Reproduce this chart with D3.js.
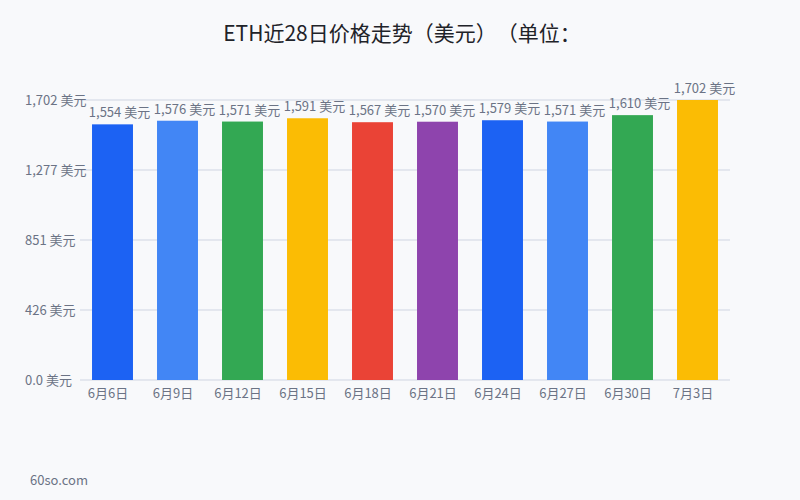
<!DOCTYPE html>
<html>
<head>
<meta charset="utf-8">
<script src="https://cdn.jsdelivr.net/npm/d3@7"></script>
<style>
  body { margin: 0; background: #f8f9fb; }
  svg { display: block; font-family: "Noto Sans CJK SC", "Noto Sans", sans-serif; text-spacing-trim: space-all; }
</style>
</head>
<body>
<svg width="800" height="500"></svg>
<script>
const dates = ["6月6日", "6月9日", "6月12日", "6月15日", "6月18日", "6月21日", "6月24日", "6月27日", "6月30日", "7月3日"];
const prices = [1554, 1576, 1571, 1591, 1567, 1570, 1579, 1571, 1610, 1702];
const yTicks = [0, 425.5, 851, 1276.5, 1702];
const yTickLabels = ["0.0 美元", "426 美元", "851 美元", "1,277 美元", "1,702 美元"];
const barColors = ["#1c62f3", "#4286f5", "#33a853", "#fbbc04", "#ea4336", "#8e44ad"];

const svg = d3.select("svg");
const grey = "#6b7385";

svg.append("rect").attr("width", 800).attr("height", 500).attr("fill", "#f8f9fb");

// title
svg.append("text")
  .attr("x", 402).attr("y", 41)
  .attr("text-anchor", "middle")
  .style("font-size", "21px")
  .style("fill", "#1f2329")
  .text("ETH近28日价格走势（美元）（单位：");

let x = d3.scaleBand().domain(dates).range([80, 730]).paddingInner(0.37).paddingOuter(0.185);
let y = d3.scaleLinear().domain([0, 1702]).range([380, 100]);
const mid = d => x(d) + x.bandwidth() / 2;

// grid lines + y labels
svg.append("g").selectAll("line").data(yTicks).enter().append("line")
  .attr("x1", 80).attr("x2", 730)
  .attr("y1", d => y(d)).attr("y2", d => y(d))
  .style("stroke", "#cfd5e2").style("stroke-width", 1);

svg.append("g").selectAll("text").data(yTicks).enter().append("text")
  .attr("x", 25)
  .attr("y", d => y(d) + 4.5)
  .style("font-size", "13px").style("fill", grey)
  .text((d, i) => yTickLabels[i]);

// bars
svg.append("g").selectAll("rect").data(prices).enter().append("rect")
  .attr("x", (d, i) => x(dates[i]))
  .attr("y", d => y(d))
  .attr("width", x.bandwidth())
  .attr("height", d => y(0) - y(d))
  .style("fill", (d, i) => barColors[i % barColors.length]);

// value labels (sit a little right of the bar centre, as in the original)
svg.append("g").selectAll("text").data(prices).enter().append("text")
  .attr("x", (d, i) => mid(dates[i]) + 7)
  .attr("y", d => y(d) - 7)
  .attr("text-anchor", "middle")
  .style("font-size", "13px").style("fill", grey)
  .text(d => d3.format(",")(d) + " 美元");

// x labels
svg.append("g").selectAll("text").data(dates).enter().append("text")
  .attr("x", d => mid(d) - 4.5)
  .attr("y", 398)
  .attr("text-anchor", "middle")
  .style("font-size", "13px").style("fill", grey)
  .text(d => d);

svg.append("text")
  .attr("x", 30).attr("y", 485)
  .style("font-size", "13px").style("fill", grey)
  .text("60so.com");
</script>
</body>
</html>
